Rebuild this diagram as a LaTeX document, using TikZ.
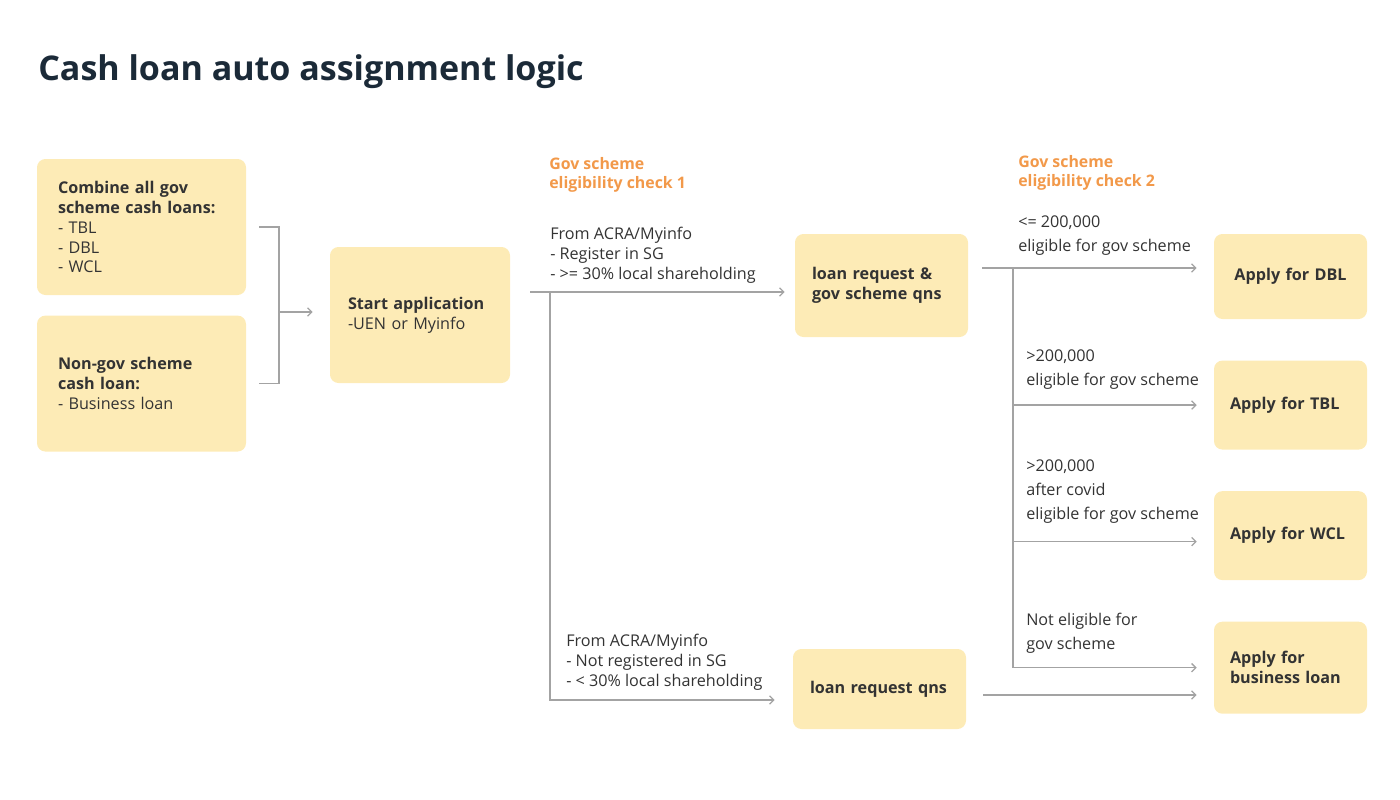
\documentclass[tikz,border=0pt]{standalone}
\usepackage{fontspec}
\setmainfont{Open Sans}
\usepackage{tikz}
\usetikzlibrary{arrows.meta, positioning, calc}
\definecolor{yellowbox}{HTML}{FDEBB6}
\definecolor{linegray}{HTML}{A3A3A3}
\definecolor{txtdark}{HTML}{333333}
\definecolor{titlenavy}{HTML}{1B2A38}
\definecolor{checkorange}{HTML}{F2994A}

\begin{document}
\begin{tikzpicture}[
  node distance=0.5cm and 2.1cm,
  box/.style={rectangle, rounded corners=6pt, fill=yellowbox, draw=none,
    font=\fontsize{11.5}{14.2}\selectfont, text=txtdark, align=left,
    inner xsep=0.45cm, inner ysep=0pt},
  lbl/.style={font=\fontsize{11.5}{17}\selectfont, text=txtdark,
    align=left, inner sep=0pt, anchor=north west},
  chk/.style={font=\fontsize{11.3}{13.6}\selectfont\bfseries, text=checkorange,
    align=left, inner sep=0pt, anchor=north west},
  arr/.style={->, >={Straight Barb[length=3pt,width=6pt]}, draw=linegray, line width=0.9pt},
  rail/.style={draw=linegray, line width=0.9pt}
]
  \useasboundingbox (0,0) rectangle (35,-20);

  \node[font=\fontsize{24.2}{28}\selectfont\bfseries, text=titlenavy, anchor=base west,
    inner sep=0pt] (title) at (0.95,-2.0) {Cash loan auto assignment logic};

  %% Loan products
  \node[box, inner xsep=0.525cm, text width=4.175cm, minimum width=5.225cm,
    minimum height=3.4cm] (comb) at (3.5375,-5.675)
    {{\bfseries Combine all gov}\\{\bfseries scheme cash loans:}\\- TBL\\- DBL\\- WCL};
  \node[box, inner xsep=0.525cm, text width=4.175cm, minimum width=5.225cm,
    minimum height=3.4cm, below=of comb] (nongov)
    {{\bfseries Non-gov scheme}\\{\bfseries cash loan:}\\- Business loan};

  \node[box, text width=3.6cm, minimum width=4.5cm, minimum height=3.4cm]
    (start) at (10.5,-7.875) {{\bfseries Start application}\\-UEN or Myinfo};

  %% Check 1
  \node[box, inner xsep=0.425cm, text width=3.475cm, minimum width=4.325cm,
    minimum height=2.575cm] (lrgov) at (22.0375,-7.1375)
    {{\bfseries loan request \&}\\{\bfseries gov scheme qns}};
  \node[box, inner xsep=0.425cm, text width=3.475cm, minimum width=4.325cm,
    minimum height=2cm] (lrq) at (21.9875,-17.225)
    {{\bfseries loan request qns}};

  %% Check 2
  \node[box, inner xsep=0.4cm, text width=3.025cm, minimum width=3.825cm,
    minimum height=2.125cm, align=center] (dbl) at (32.2625,-6.9125)
    {{\bfseries Apply for DBL}};
  \node[box, inner xsep=0.4cm, text width=3.025cm, minimum width=3.825cm,
    minimum height=2.225cm, below=1.025cm of dbl] (tbl)
    {{\bfseries Apply for TBL}};
  \node[box, inner xsep=0.4cm, text width=3.025cm, minimum width=3.825cm,
    minimum height=2.225cm, below=1.025cm of tbl] (wcl)
    {{\bfseries Apply for WCL}};
  \node[box, inner xsep=0.4cm, text width=3.025cm, minimum width=3.825cm,
    minimum height=2.3cm, below=1.025cm of wcl] (bus)
    {{\bfseries Apply for}\\{\bfseries business loan}};

  %% Headings and conditions
  \node[chk] (chk1) at (13.725,-3.93) {Gov scheme\\eligibility check 1};
  \node[chk] (chk2) at (25.45,-3.88) {Gov scheme\\eligibility check 2};
  \node[lbl, font=\fontsize{11.5}{14.2}\selectfont] (acra1) at (13.75,-5.68)
    {From ACRA/Myinfo\\- Register in SG\\- >= 30\% local shareholding};
  \node[lbl, font=\fontsize{11.5}{14.2}\selectfont] (acra2) at (14.15,-15.855)
    {From ACRA/Myinfo\\- Not registered in SG\\- < 30\% local shareholding};
  \node[lbl] (le200) at (25.45,-5.38) {<= 200,000\\eligible for gov scheme};
  \node[lbl] (gt200) at (25.65,-8.73) {>200,000\\eligible for gov scheme};
  \node[lbl] (covid) at (25.65,-11.48) {>200,000\\after covid\\eligible for gov scheme};
  \node[lbl] (noteli) at (25.65,-15.33) {Not eligible for\\gov scheme};

  %% Connectors
  \coordinate (join) at (6.975,-7.8);
  \coordinate (fork1) at (13.25,-7.3);
  \coordinate (fork2) at (24.55,-6.7);
  \draw[rail] ([xshift=0.325cm]comb.east) -- (join |- comb.east) -- (join |- nongov.east)
    -- ([xshift=0.325cm]nongov.east);
  \draw[arr] (join) -- ([xshift=-0.425cm]start.west |- join);
  \draw[arr] (fork1) -- ([xshift=-0.25cm]lrgov.west |- fork1);
  \draw[arr] ([xshift=0.5cm]fork1) |- ([xshift=-0.45cm,yshift=-0.275cm]lrq.west);
  \draw[arr] (fork2) -- ([xshift=-0.425cm]dbl.west |- fork2);
  \draw[arr] ([xshift=0.775cm]fork2) |- ([xshift=-0.425cm]tbl.west);
  \draw[arr] ([xshift=0.775cm]fork2) |- ([xshift=-0.425cm,yshift=-0.15cm]wcl.west);
  \draw[arr] ([xshift=0.775cm]fork2) |- ([xshift=-0.425cm]bus.west);
  \draw[arr] ([xshift=0.425cm,yshift=-0.15cm]lrq.east) -- ([xshift=-0.425cm]bus.west |- 0,-17.375);
\end{tikzpicture}
\end{document}
